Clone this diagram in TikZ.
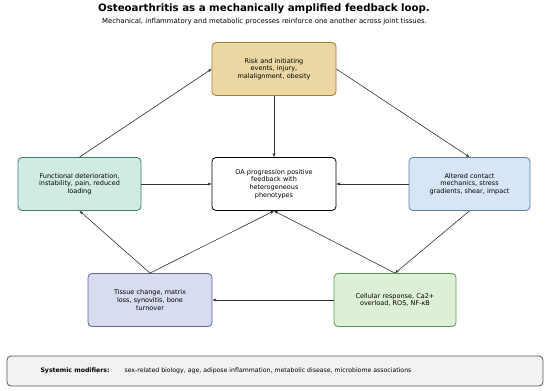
\documentclass[tikz,border=0pt]{standalone}
\usepackage{fontspec}
\setmainfont{DejaVu Sans}
\usetikzlibrary{arrows.meta}
\definecolor{riskF}{HTML}{EAD7A4}\definecolor{riskD}{HTML}{A67C2E}
\definecolor{funF}{HTML}{D0EBE4}\definecolor{funD}{HTML}{3F7D72}
\definecolor{altF}{HTML}{D8E5F7}\definecolor{altD}{HTML}{5B80B2}
\definecolor{tisF}{HTML}{D7DCF0}\definecolor{tisD}{HTML}{5A67A3}
\definecolor{celF}{HTML}{DDF0D6}\definecolor{celD}{HTML}{5C9A4C}
\definecolor{sysF}{HTML}{F2F2F2}\definecolor{sysD}{HTML}{555555}
\definecolor{arr}{HTML}{333333}
\tikzset{
  box/.style={draw, rounded corners=4pt, line width=0.8pt, minimum width=124pt, minimum height=53pt,
    align=center, text width=114pt, font=\fontsize{6.5}{7.6}\selectfont, inner sep=2pt},
  conn/.style={draw=arr, line width=0.6pt, -{Stealth[length=4pt,width=3pt]}},
}
\begin{document}
\begin{tikzpicture}[x=1pt,y=-1pt]
\useasboundingbox (0,0) rectangle (550,391);
\node (title) at (264,9) {\fontsize{10.2}{12}\selectfont\bfseries Osteoarthritis as a mechanically amplified feedback loop.};
\node (sub) at (264.5,22) {\fontsize{6.9}{8}\selectfont Mechanical, inflammatory and metabolic processes reinforce one another across joint tissues.};
\node[box, fill=riskF, draw=riskD] (risk) at (274,69) {Risk and initiating\\ events, injury,\\ malalignment, obesity};
\node[box, fill=funF, draw=funD, minimum width=123pt] (fun) at (79.5,184) {Functional deterioration,\\ instability, pain, reduced\\ loading};
\node[box, fill=white, draw=black] (oa) at (274,184) {OA progression positive\\ feedback with\\ heterogeneous\\ phenotypes};
\node[box, fill=altF, draw=altD, minimum width=121pt] (alt) at (469.5,184) {Altered contact\\ mechanics, stress\\ gradients, shear, impact};
\node[box, fill=tisF, draw=tisD] (tis) at (150,300) {Tissue change, matrix\\ loss, synovitis, bone\\ turnover};
\node[box, fill=celF, draw=celD, minimum width=122pt] (cel) at (395,300) {Cellular response, Ca2+\\ overload, ROS, NF-κB};
\node[draw=sysD, fill=sysF, rounded corners=4pt, line width=0.8pt, minimum width=536pt, minimum height=30pt] (sys) at (275,371) {};
\node[anchor=west, font=\fontsize{6.2}{7}\selectfont\bfseries] (syslab) at (37,371) {Systemic modifiers:};
\node[anchor=west, font=\fontsize{6.2}{7}\selectfont] (systxt) at (121,371) {sex-related biology, age, adipose inflammation, metabolic disease, microbiome associations};
\draw[conn] (risk.south) -- (oa.north);
\draw[conn] (risk.east) -- (alt.north);
\draw[conn] (fun.north) -- (risk.west);
\draw[conn] (fun.east) -- (oa.west);
\draw[conn] (alt.west) -- (oa.east);
\draw[conn] (alt.south) -- (cel.north);
\draw[conn] (cel.west) -- (tis.east);
\draw[conn] (cel.north) -- (oa.south);
\draw[conn] (tis.north) -- (oa.south);
\draw[conn] (tis.north) -- (fun.south);
\end{tikzpicture}
\end{document}
